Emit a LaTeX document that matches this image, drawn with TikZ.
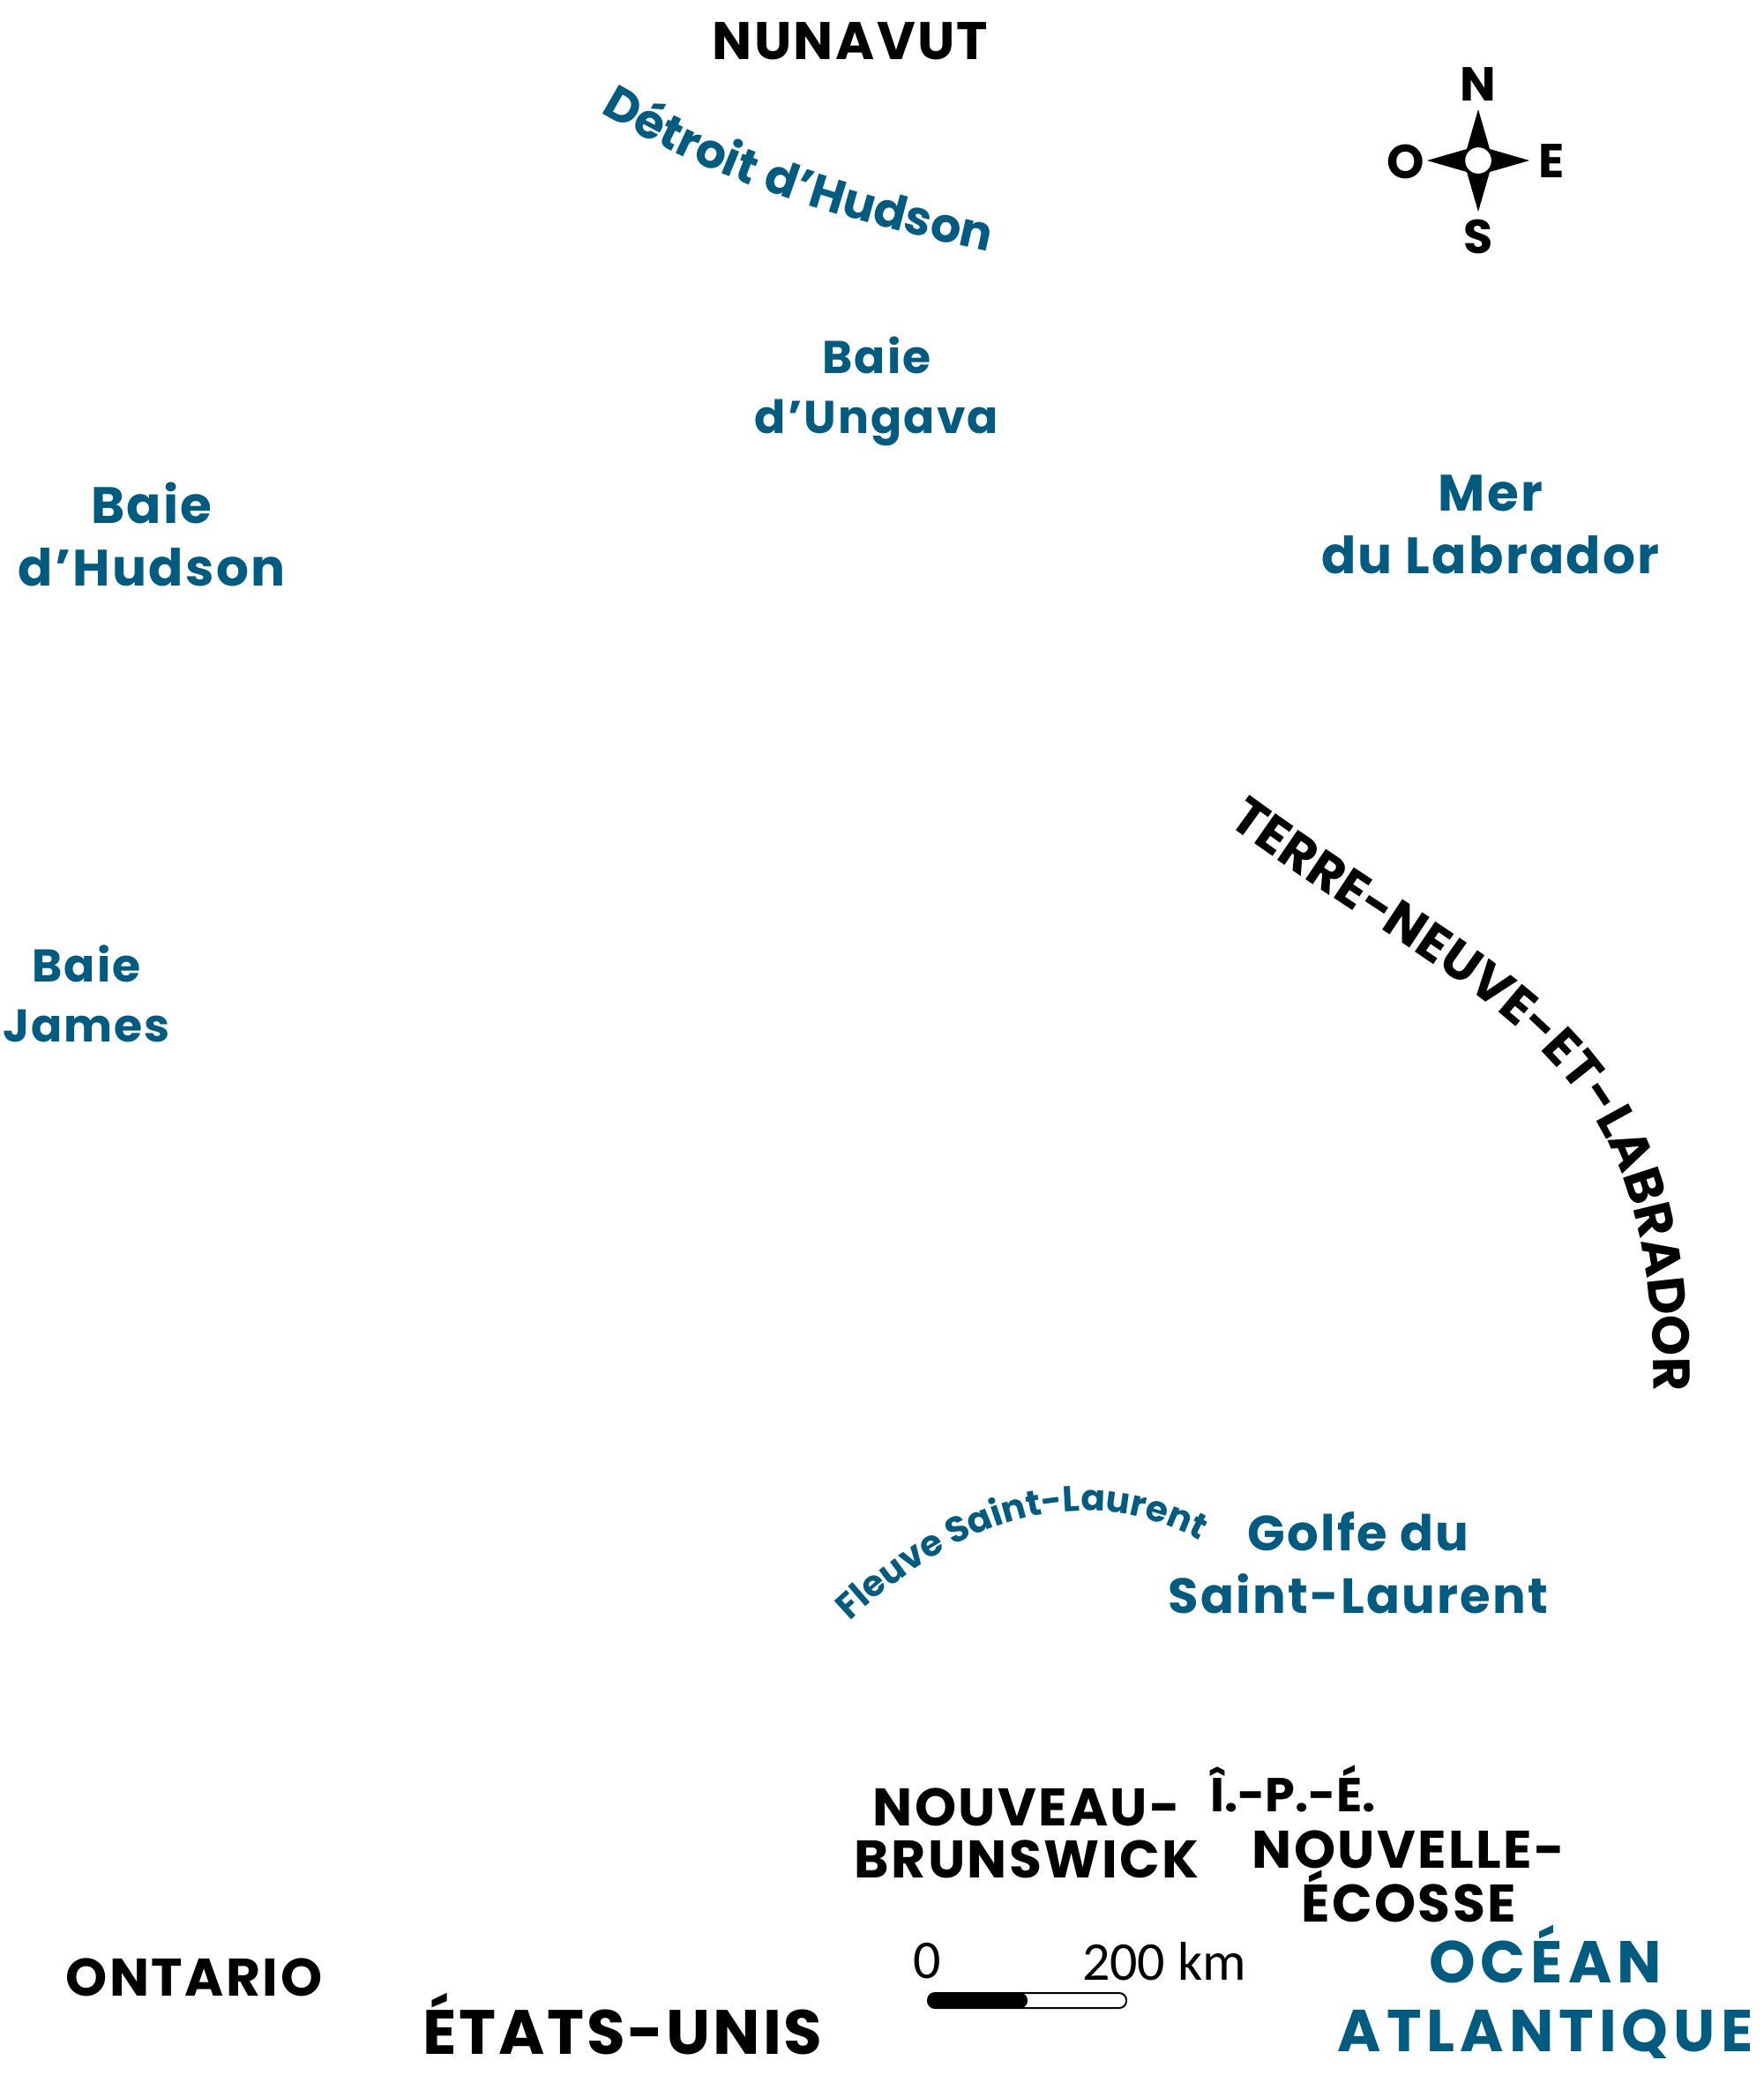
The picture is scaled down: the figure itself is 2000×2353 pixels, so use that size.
\documentclass[tikz,border=0pt]{standalone}
\usepackage{fontspec}
\usepackage{xcolor}
\usetikzlibrary{decorations.text}
\setmainfont{Poppins}
\newfontfamily\spacedfont[LetterSpace=4]{Poppins}
\newfontfamily\widefont[LetterSpace=9]{Poppins}
\newfontfamily\scalefont{Carlito}
\definecolor{seablue}{RGB}{0, 91, 128}

\tikzset{
  land/.style={font=\spacedfont\bfseries\fontsize{30}{29.3}\selectfont, text=black, align=center, inner sep=0pt},
  sea/.style={font=\spacedfont\bfseries\fontsize{29}{35.5}\selectfont, text=seablue, align=center, inner sep=0pt},
  smallsea/.style={font=\spacedfont\bfseries\fontsize{26}{34}\selectfont, text=seablue, align=center, inner sep=0pt},
  ocean/.style={font=\widefont\bfseries\fontsize{33.5}{39}\selectfont, text=seablue, align=center, inner sep=0pt},
  compass/.style={font=\bfseries\fontsize{27}{27}\selectfont, inner sep=0pt},
  scaletext/.style={font=\scalefont\fontsize{31}{31}\selectfont, inner sep=0pt},
}

\begin{document}
\begin{tikzpicture}[x=0.5pt,y=-0.5pt]
    \useasboundingbox (0,0) rectangle (2000,2353);

    % Provinces
    \node[land] (nunavut) at (964,47) {NUNAVUT};
    \node[land] (nb) at (1164,2079) {NOUVEAU-\\BRUNSWICK};
    \node[land,font=\bfseries\fontsize{27}{27}\selectfont,anchor=west] (ipe) at (1372,2028) {Î.-P.-É.};
    \node[land] (ne) at (1597,2128) {NOUVELLE-\\ÉCOSSE};
    \node[land] (ontario) at (220,2242) {ONTARIO};
    \node[land,font=\spacedfont\bfseries\fontsize{35.5}{35.5}\selectfont] (usa) at (706,2295) {ÉTATS-UNIS};

    % Water
    \node[smallsea] (ungava) at (994,444) {Baie\\d’Ungava};
    \node[sea] (hudson) at (172,606) {Baie\\d’Hudson};
    \node[sea] (labrador) at (1690,595) {Mer\\du Labrador};
    \node[smallsea] (james) at (98,1127) {Baie\\James};
    \node[sea,font=\spacedfont\bfseries\fontsize{28}{35.5}\selectfont] (golfe) at (1540,1772) {Golfe du\\Saint-Laurent};
    \node[ocean] (ocean) at (1752,2259) {OCÉAN\\ATLANTIQUE};

    % Curved names
    \path[decorate,decoration={text along path,text align=center,
      text={|\spacedfont\bfseries\fontsize{27}{27}\selectfont\color{seablue}|Détroit d’Hudson}}]
      (655,112) .. controls (800,205) and (950,250) .. (1150,292);
    \path[decorate,decoration={text along path,text align=center,
      text={|\bfseries\fontsize{20.3}{20.3}\selectfont\color{seablue}|Fleuve Saint-Laurent}}]
      (930,1872) .. controls (1080,1712) and (1250,1662) .. (1400,1772);
    \path[decorate,decoration={text along path,text align=center,
      text={|\bfseries\fontsize{29.5}{29.5}\selectfont|TERRE-NEUVE-ET-LABRADOR}}]
      (1365,915) .. controls (1690,1160) and (1885,1170) .. (1875,1610);

    % Compass
    \fill (1676,124) -- (1689,169) -- (1734,182) -- (1689,195) -- (1676,240)
      -- (1663,195) -- (1618,182) -- (1663,169) -- cycle;
    \fill[white] (1676,182) circle (7.4pt);
    \foreach \nm/\x/\y in {N/1676/96,S/1676/268,O/1594/183,E/1759/183}{
        \node[compass] (comp\nm) at (\x,\y) {\nm};
    }

    % Scale bar
    \draw[black,line width=1pt,rounded corners=4pt] (1052,2260) rectangle (1277,2277);
    \fill[black,rounded corners=4pt] (1052,2260) -- (1165,2260) -- (1165,2277) -- (1052,2277) -- cycle;
    \node[scaletext] (zero) at (1051,2224) {0};
    \node[scaletext] (twohundred) at (1320,2224) {200 km};
\end{tikzpicture}
\end{document}
